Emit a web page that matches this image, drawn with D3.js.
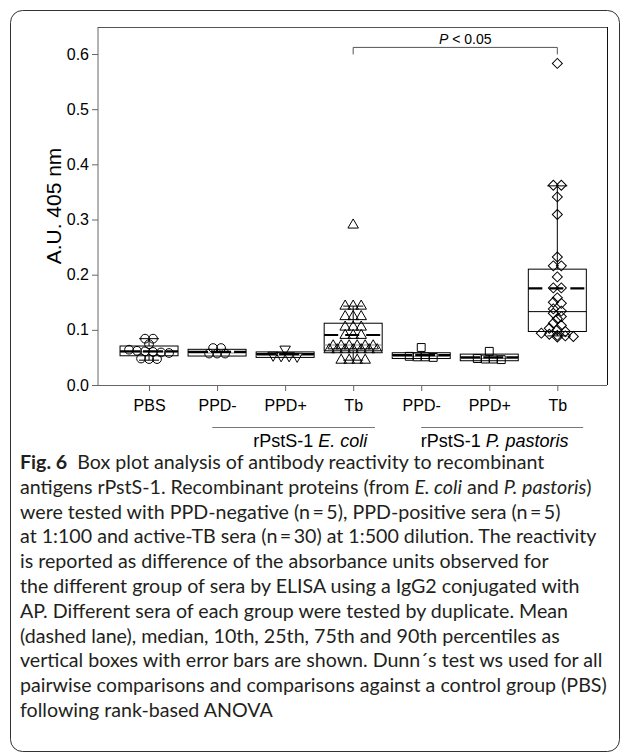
<!DOCTYPE html>
<html>
<head>
<meta charset="utf-8">
<script src="https://cdn.jsdelivr.net/npm/d3@7"></script>
<style>
  body { margin: 0; background: #fff; }
  svg { display: block; }
</style>
</head>
<body>
<svg width="629" height="753"></svg>
<script>
var groups = ['PBS', 'PPD-', 'PPD+', 'Tb', 'PPD-', 'PPD+', 'Tb']
var markers = ['circle', 'circle', 'triangleDown', 'triangle', 'square', 'square', 'diamond']

// individual sera, A.U. 405 nm
var pbs = [0.084, 0.084, 0.074, 0.064, 0.062, 0.061, 0.060, 0.059, 0.058, 0.048, 0.047, 0.047]
var coliNeg = [0.067, 0.067, 0.057, 0.057, 0.057]
var coliPos = [0.065, 0.054, 0.053, 0.053, 0.052]
var coliTb = [0.29, 0.143, 0.143, 0.143, 0.124, 0.124, 0.124, 0.105, 0.105, 0.105,
  0.09, 0.09, 0.09, 0.071, 0.071, 0.071, 0.071, 0.071, 0.071,
  0.064, 0.064, 0.064, 0.064, 0.064, 0.064, 0.064, 0.045, 0.045, 0.045, 0.045]
var pastNeg = [0.068, 0.052, 0.051, 0.051, 0.050]
var pastPos = [0.061, 0.048, 0.047, 0.047, 0.046]
var pastTb = [0.583, 0.362, 0.362, 0.341, 0.309, 0.232, 0.216, 0.216, 0.196, 0.176, 0.176,
  0.158, 0.150, 0.148, 0.138, 0.134, 0.130, 0.124, 0.120, 0.112, 0.108, 0.103,
  0.100, 0.097, 0.094, 0.092, 0.090, 0.089, 0.088, 0.087]
var points = [pbs, coliNeg, coliPos, coliTb, pastNeg, pastPos, pastTb]

// box statistics (null = not drawn, n too small)
var p10 = [0.045, null, null, 0.045, null, null, 0.089]
var p25 = [0.053, 0.0525, 0.050, 0.062, 0.048, 0.044, 0.097]
var medians = [0.060, 0.058, 0.054, 0.0725, 0.052, 0.048, 0.133]
var means = [0.061, 0.060, 0.056, 0.0906, 0.054, 0.050, 0.175]
var p75 = [0.0707, 0.0647, 0.060, 0.112, 0.0585, 0.056, 0.210]
var p90 = [0.084, null, null, 0.143, null, null, 0.361]

var yTicks = [0, 0.1, 0.2, 0.3, 0.4, 0.5, 0.6]
var sources = [['rPstS-1 ', 'E. coli'], ['rPstS-1 ', 'P. pastoris']]
var pLabel = ['P', ' < 0.05']

var caption = [
  '**Fig. 6**  Box plot analysis of antibody reactivity to recombinant',
  'antigens rPstS-1. Recombinant proteins (from *E. coli* and *P. pastoris*)',
  'were tested with PPD-negative (n\u2009=\u20095), PPD-positive sera (n\u2009=\u20095)',
  'at 1:100 and active-TB sera (n\u2009=\u200930) at 1:500 dilution. The reactivity',
  'is reported as difference of the absorbance units observed for',
  'the different group of sera by ELISA using a IgG2 conjugated with',
  'AP. Different sera of each group were tested by duplicate. Mean',
  '(dashed lane), median, 10th, 25th, 75th and 90th percentiles as',
  'vertical boxes with error bars are shown. Dunn\u00b4s test ws used for all',
  'pairwise comparisons and comparisons against a control group (PBS)',
  'following rank-based ANOVA'
]

var svg = d3.select('svg')
var font = '"Liberation Sans", Arial, sans-serif'
var pLeft = 98, pRight = 607, pTop = 27, pBottom = 385

var x = d3.scaleLinear().domain([0.25, 7.73]).range([pLeft, pRight])
var y = d3.scaleLinear().domain([0, 0.649]).range([pBottom, pTop])

// outer figure frame
svg.append('rect')
  .attr('x', 10.5).attr('y', 10.5)
  .attr('width', 609).attr('height', 741)
  .attr('rx', 12)
  .attr('fill', 'none')
  .attr('stroke', '#333')

var g = svg.append('g')

// axes
g.append('g')
  .attr('transform', 'translate(' + pLeft + ',0)')
  .call(d3.axisLeft(y).tickValues(yTicks).tickFormat(d3.format('.1f')).tickSize(6).tickPadding(3))
g.append('g')
  .attr('transform', 'translate(0,' + pBottom + ')')
  .call(d3.axisBottom(x).tickValues(d3.range(1, 8)).tickFormat(function(d) { return groups[d - 1] })
    .tickSize(6).tickPadding(9))
g.selectAll('.domain').remove()
g.selectAll('.tick line').attr('stroke', '#666')
g.selectAll('.tick text').attr('fill', '#000').style('font-family', font).style('font-size', '16px')

// plot frame
g.append('line').attr('x1', pLeft).attr('x2', pLeft).attr('y1', pTop).attr('y2', pBottom).attr('stroke', '#666')
g.append('line').attr('x1', pLeft).attr('x2', pRight).attr('y1', pBottom + 0.5).attr('y2', pBottom + 0.5).attr('stroke', '#666')
g.append('line').attr('x1', pLeft).attr('x2', pRight).attr('y1', pTop + 0.5).attr('y2', pTop + 0.5).attr('stroke', '#555')
g.append('line').attr('x1', pRight + 0.5).attr('x2', pRight + 0.5).attr('y1', pTop).attr('y2', pBottom).attr('stroke', '#111')

svg.append('text')
  .attr('transform', 'translate(61,' + (pTop + pBottom) / 2 + ') rotate(-90)')
  .attr('text-anchor', 'middle')
  .style('font-family', font).style('font-size', '21px')
  .text('A.U. 405 nm')

// boxes
var boxW = 58, capW = 20
var bx = g.append('g')
groups.forEach(function(name, i) {
  var cx = x(i + 1)
  if (p90[i] != null) {
    bx.append('line').attr('x1', cx).attr('x2', cx).attr('y1', y(p75[i])).attr('y2', y(p90[i])).attr('stroke', '#000')
    bx.append('line').attr('x1', cx).attr('x2', cx).attr('y1', y(p25[i])).attr('y2', y(p10[i])).attr('stroke', '#000')
    bx.append('line').attr('x1', cx - capW / 2).attr('x2', cx + capW / 2).attr('y1', y(p90[i])).attr('y2', y(p90[i])).attr('stroke', '#000')
    bx.append('line').attr('x1', cx - capW / 2).attr('x2', cx + capW / 2).attr('y1', y(p10[i])).attr('y2', y(p10[i])).attr('stroke', '#000')
  }
  bx.append('rect')
    .attr('x', cx - boxW / 2).attr('width', boxW)
    .attr('y', y(p75[i])).attr('height', y(p25[i]) - y(p75[i]))
    .attr('fill', 'none').attr('stroke', '#000')
  bx.append('line')
    .attr('x1', cx - boxW / 2).attr('x2', cx + boxW / 2)
    .attr('y1', y(medians[i])).attr('y2', y(medians[i]))
    .attr('stroke', i === 6 ? '#000' : '#888')
  bx.append('line')
    .attr('x1', cx - boxW / 2).attr('x2', cx + boxW / 2)
    .attr('y1', y(means[i])).attr('y2', y(means[i]))
    .attr('stroke', '#000').attr('stroke-width', 2.2)
    .attr('stroke-dasharray', i === 3 || i === 6 ? '14,7' : '20,3')
})

// points that sit within a few pixels of each other share a row, centred on the group
function rows(values, binPx, step) {
  var out = [], row = []
  function flush() {
    row.forEach(function(p, j) { p.dx = (j - (row.length - 1) / 2) * step; out.push(p) })
    row = []
  }
  values.slice().sort(d3.descending).forEach(function(v) {
    var py = y(v)
    if (row.length && py - row[0].y >= binPx) flush()
    row.push({v: v, y: py})
  })
  flush()
  return out
}

var shapes = {
  circle: {type: d3.symbolCircle, size: 60, rot: 0},
  triangle: {type: d3.symbolTriangle, size: 48, rot: 0},
  triangleDown: {type: d3.symbolTriangle, size: 48, rot: 180},
  square: {type: d3.symbolSquare, size: 62, rot: 0},
  diamond: {type: d3.symbolSquare, size: 50, rot: 45}
}

var pts = g.append('g')
points.forEach(function(vals, i) {
  var s = shapes[markers[i]]
  var sym = d3.symbol().type(s.type).size(s.size)
  pts.selectAll(null)
    .data(rows(vals, 3.5, 8))
    .enter().append('path')
    .attr('d', sym)
    .attr('transform', function(d) { return 'translate(' + (x(i + 1) + d.dx) + ',' + d.y + ') rotate(' + s.rot + ')' })
    .attr('fill', 'none')
    .attr('stroke', '#000')
    .attr('stroke-width', 1)
})

// significance bracket Tb (E. coli) vs Tb (P. pastoris)
var by = y(0.612)
g.append('path')
  .attr('d', 'M' + x(4) + ',' + (by + 7) + 'V' + by + 'H' + x(7) + 'V' + (by + 7))
  .attr('fill', 'none').attr('stroke', '#555')
var pt = g.append('text')
  .attr('x', (x(4) + x(7)) / 2 + 10).attr('y', by - 3)
  .attr('text-anchor', 'middle')
  .style('font-family', font).style('font-size', '14px')
pt.append('tspan').style('font-style', 'italic').text(pLabel[0])
pt.append('tspan').text(pLabel[1])

// source groups under the axis
var spans = [[1.93, 4.32, 3.37], [5.0, 7.38, 6.08]]
sources.forEach(function(lab, k) {
  g.append('line')
    .attr('x1', x(spans[k][0])).attr('x2', x(spans[k][1]))
    .attr('y1', 427.5).attr('y2', 427.5)
    .attr('stroke', '#777')
  var t = g.append('text')
    .attr('x', x(spans[k][2])).attr('y', 447)
    .attr('text-anchor', 'middle')
    .style('font-family', font).style('font-size', '18px')
  t.append('tspan').text(lab[0])
  t.append('tspan').style('font-style', 'italic').text(lab[1])
})

// caption
var capFont = 'Lato, "Open Sans", sans-serif'
var cap = svg.append('g').style('font-family', capFont).style('fill', '#231f20')
var capSize = 16
var lines = caption.map(function(line, i) {
  var t = cap.append('text')
    .attr('x', 20).attr('y', 469 + i * 24.8)
    .style('font-size', capSize + 'px')
    .attr('xml:space', 'preserve')
  line.split(/(\*\*[^*]+\*\*|\*[^*]+\*)/).forEach(function(part) {
    if (!part) return
    var ts = t.append('tspan')
    if (part.indexOf('**') === 0) ts.style('font-weight', 'bold').text(part.slice(2, -2))
    else if (part.indexOf('*') === 0) ts.style('font-style', 'italic').text(part.slice(1, -1))
    else ts.text(part)
  })
  return t
})
// fit the widest line to the text block width
var w = d3.max(lines, function(t) { return t.node().getComputedTextLength() })
capSize = capSize * 587 / w
lines.forEach(function(t) { t.style('font-size', capSize + 'px') })
</script>
</body>
</html>
